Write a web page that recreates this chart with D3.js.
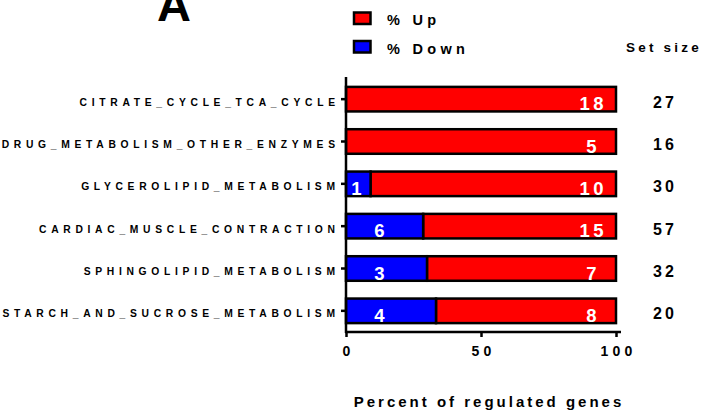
<!DOCTYPE html>
<html>
<head>
<meta charset="utf-8">
<script src="https://cdn.jsdelivr.net/npm/d3@7"></script>
<style>
  html, body { margin: 0; padding: 0; background: #fff; }
  svg text { font-family: "Liberation Sans", Arial, sans-serif; font-weight: bold; fill: #000; }
</style>
</head>
<body>
<div id="chart"></div>
<script>
// pathway categories, top to bottom
const categories = [
  'CITRATE_CYCLE_TCA_CYCLE',
  'DRUG_METABOLISM_OTHER_ENZYMES',
  'GLYCEROLIPID_METABOLISM',
  'CARDIAC_MUSCLE_CONTRACTION',
  'SPHINGOLIPID_METABOLISM',
  'STARCH_AND_SUCROSE_METABOLISM'
];
const upCounts = [18, 5, 10, 15, 7, 8];
const downCounts = [0, 0, 1, 6, 3, 4];
const setSizes = [27, 16, 30, 57, 32, 20];
const xTicks = [0, 50, 100];
const legendLabels = ['% Up', '% Down'];

const RED = '#ff0000';
const BLUE = '#0000ff';

const rows = categories.map((c, i) => {
  const total = upCounts[i] + downCounts[i];
  return { name: c, up: upCounts[i], down: downCounts[i], size: setSizes[i], downPct: downCounts[i] / total * 100 };
});

const width = 704, height = 415;
const svg = d3.select('#chart').append('svg')
  .attr('width', width)
  .attr('height', height);

const x = d3.scaleLinear().domain([0, 100]).range([346, 616]);
const y = d3.scaleBand()
  .domain(categories)
  .range([78, 332])
  .paddingInner(0.42)
  .paddingOuter(0.21);

// panel letter (top is clipped in the original figure too)
svg.append('text')
  .attr('x', 157)
  .attr('y', 21)
  .style('font-size', '47px')
  .text('A');

// bars
const rowG = svg.selectAll('g.row')
  .data(rows)
  .enter()
  .append('g')
  .attr('class', 'row');

rowG.append('rect')
  .attr('x', d => x(d.downPct))
  .attr('y', d => y(d.name))
  .attr('width', d => x(100) - x(d.downPct))
  .attr('height', y.bandwidth())
  .attr('fill', RED)
  .attr('stroke', '#000')
  .attr('stroke-width', 2.5);

rowG.filter(d => d.down > 0)
  .append('rect')
  .attr('x', x(0))
  .attr('y', d => y(d.name))
  .attr('width', d => x(d.downPct) - x(0))
  .attr('height', y.bandwidth())
  .attr('fill', BLUE)
  .attr('stroke', '#000')
  .attr('stroke-width', 2.5);

// count labels inside bars
rowG.append('text')
  .attr('x', x(91) + 1.5)
  .attr('y', d => y(d.name) + y.bandwidth() / 2 + 11)
  .attr('text-anchor', 'middle')
  .style('font-size', '18.5px')
  .style('letter-spacing', '3.5px')
  .style('fill', '#fff')
  .text(d => d.up);

rowG.filter(d => d.down > 0)
  .append('text')
  .attr('x', d => Math.min(x(d.downPct / 2), x(13)))
  .attr('y', d => y(d.name) + y.bandwidth() / 2 + 11)
  .attr('text-anchor', 'middle')
  .style('font-size', '18.5px')
  .style('letter-spacing', '3.5px')
  .style('fill', '#fff')
  .text(d => d.down);

// set sizes
svg.append('text')
  .attr('x', 664)
  .attr('y', 52)
  .attr('text-anchor', 'middle')
  .style('font-size', '13.5px')
  .style('letter-spacing', '3.2px')
  .text('Set size');

rowG.append('text')
  .attr('x', 665)
  .attr('y', d => y(d.name) + y.bandwidth() / 2 + 8.5)
  .attr('text-anchor', 'middle')
  .style('font-size', '16px')
  .style('letter-spacing', '3px')
  .text(d => d.size);

// y axis
const yAxis = svg.append('g')
  .attr('transform', `translate(${x(0)},0)`)
  .call(d3.axisLeft(y).tickSize(5).tickPadding(6).tickSizeOuter(0));
yAxis.select('.domain').attr('stroke-width', 2.5).attr('d', 'M0,77V333');
yAxis.selectAll('.tick line').attr('stroke-width', 2.5);
yAxis.selectAll('.tick text')
  .attr('dy', '0.62em')
  .attr('dx', 4.7)
  .style('font-size', '10.3px')
  .style('letter-spacing', '4.7px');

// x axis
const xAxis = svg.append('g')
  .attr('transform', 'translate(0,332)')
  .call(d3.axisBottom(x).tickValues(xTicks).tickSize(5).tickPadding(9).tickSizeOuter(0));
xAxis.select('.domain').attr('stroke-width', 2.5).attr('d', `M${x(0) - 1},0H${x(100) + 5}`);
xAxis.selectAll('.tick line').attr('stroke-width', 2.5);
xAxis.selectAll('.tick text')
  .attr('dx', 2)
  .style('font-size', '14px')
  .style('letter-spacing', '4.3px');

svg.append('text')
  .attr('x', 489)
  .attr('y', 407)
  .attr('text-anchor', 'middle')
  .style('font-size', '15px')
  .style('letter-spacing', '3px')
  .text('Percent of regulated genes');

// legend
const legend = svg.selectAll('g.legend')
  .data(legendLabels)
  .enter()
  .append('g')
  .attr('class', 'legend')
  .attr('transform', (d, i) => `translate(354,${12.5 + i * 28.5})`);

legend.append('rect')
  .attr('width', 16.5)
  .attr('height', 11.5)
  .attr('fill', (d, i) => i === 0 ? RED : BLUE)
  .attr('stroke', '#000')
  .attr('stroke-width', 2.5);

legend.append('text')
  .attr('x', 33)
  .attr('y', 12.5)
  .style('font-size', '14.5px')
  .style('letter-spacing', '4.3px')
  .text(d => d);
</script>
</body>
</html>
